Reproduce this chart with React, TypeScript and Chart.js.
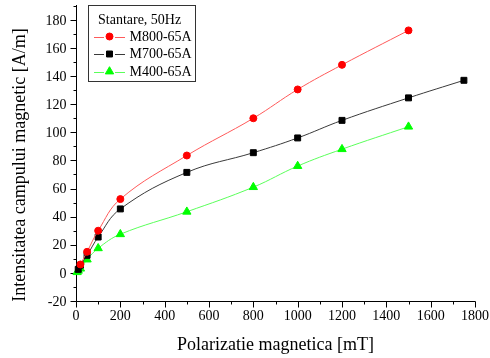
import React, { useEffect, useRef } from "react";
import { Chart, registerables } from "chart.js";

Chart.register(...registerables);

// ---- data ----
const seriesNames = ["M800-65A", "M700-65A", "M400-65A"];
const legendTitle = "Stantare, 50Hz";

const m800X = [20, 50, 100, 200, 500, 800, 1000, 1200, 1500];
const m800Y = [6, 15, 30, 52.5, 83.5, 110, 130.5, 148, 172.5];

const m700X = [10, 20, 50, 100, 200, 500, 800, 1000, 1200, 1500, 1750];
const m700Y = [2.5, 5.5, 12.5, 25.5, 45.5, 71.5, 85.5, 96, 108.5, 124.5, 137];

const m400X = [5, 10, 20, 50, 100, 200, 500, 800, 1000, 1200, 1500];
const m400Y = [0.5, 1.5, 3, 9.5, 17.5, 27.5, 43.5, 61, 76, 88, 104];

const xTickLabels = [0, 200, 400, 600, 800, 1000, 1200, 1400, 1600, 1800];
const yTickLabels = [-20, 0, 20, 40, 60, 80, 100, 120, 140, 160, 180];
const xMinorStep = 100;
const yMinorStep = 10;

const xTitle = "Polarizatie magnetica [mT]";
const yTitle = "Intensitatea campului magnetic [A/m]";

const FONT = '"Liberation Serif", "Times New Roman", serif';

const zip = (xs: number[], ys: number[]) => xs.map((x, i) => ({ x, y: ys[i] }));

function drawMarker(ctx: CanvasRenderingContext2D, style: string, r: number, x: number, y: number) {
  ctx.beginPath();
  if (style === "rect") {
    const s = Math.SQRT1_2 * r;
    ctx.rect(x - s, y - s, 2 * s, 2 * s);
  } else if (style === "triangle") {
    let a = 0;
    ctx.moveTo(x + Math.sin(a) * r, y - Math.cos(a) * r);
    a += (2 * Math.PI) / 3;
    ctx.lineTo(x + Math.sin(a) * r, y - Math.cos(a) * r);
    a += (2 * Math.PI) / 3;
    ctx.lineTo(x + Math.sin(a) * r, y - Math.cos(a) * r);
    ctx.closePath();
  } else {
    ctx.arc(x, y, r, 0, Math.PI * 2);
  }
  ctx.fill();
  ctx.stroke();
}

const axesPlugin = {
  id: "customAxes",
  beforeDatasetsDraw(chart: any) {
    const ctx = chart.ctx as CanvasRenderingContext2D;
    const xs = chart.scales.x;
    const ys = chart.scales.y;
    const { left, right, top, bottom } = chart.chartArea;
    const ax = Math.floor(left) + 0.5;
    const ay = Math.floor(bottom) + 0.5;
    ctx.save();
    ctx.strokeStyle = "#000";
    ctx.lineWidth = 1;
    ctx.beginPath();
    ctx.moveTo(ax, Math.floor(top));
    ctx.lineTo(ax, ay);
    ctx.lineTo(Math.ceil(right) + 0.5, ay);
    ctx.stroke();

    ctx.beginPath();
    for (let v = ys.min; v <= ys.max + 1e-9; v += yMinorStep) {
      const py = Math.round(ys.getPixelForValue(v)) + 0.5;
      const major = yTickLabels.includes(v);
      ctx.moveTo(ax, py);
      ctx.lineTo(ax - (major ? 6 : 3), py);
    }
    for (let v = xs.min; v <= xs.max + 1e-9; v += xMinorStep) {
      const px = Math.round(xs.getPixelForValue(v)) + 0.5;
      const major = xTickLabels.includes(v);
      ctx.moveTo(px, ay);
      ctx.lineTo(px, ay + (major ? 6 : 3));
    }
    ctx.stroke();

    ctx.fillStyle = "#000";
    ctx.font = `14px ${FONT}`;
    ctx.textAlign = "right";
    ctx.textBaseline = "middle";
    yTickLabels.forEach((v) => {
      ctx.fillText(String(v), ax - 10, ys.getPixelForValue(v) + 1);
    });
    ctx.textAlign = "center";
    ctx.textBaseline = "middle";
    xTickLabels.forEach((v) => {
      ctx.fillText(String(v), xs.getPixelForValue(v), ay + 15);
    });

    ctx.font = `18px ${FONT}`;
    ctx.textAlign = "center";
    ctx.textBaseline = "alphabetic";
    ctx.fillText(xTitle, (left + right) / 2, 350);
    ctx.save();
    ctx.translate(20, 165);
    ctx.rotate(-Math.PI / 2);
    ctx.textBaseline = "middle";
    ctx.fillText(yTitle, 0, 0);
    ctx.restore();
    ctx.restore();
  },
  afterDraw(chart: any) {
    const ctx = chart.ctx as CanvasRenderingContext2D;
    ctx.save();
    const bx = 88.5, by = 5.5, bw = 107, bh = 76;
    ctx.strokeStyle = "#333";
    ctx.lineWidth = 1;
    ctx.fillStyle = "#fff";
    ctx.fillRect(bx, by, bw, bh);
    ctx.strokeRect(bx, by, bw, bh);
    ctx.fillStyle = "#000";
    ctx.font = `14px ${FONT}`;
    ctx.textAlign = "left";
    ctx.textBaseline = "middle";
    ctx.fillText(legendTitle, 98, 20);
    const rows = [36.5, 54, 71.5];
    chart.data.datasets.forEach((ds: any, i: number) => {
      const y = rows[i];
      const ly = Math.round(y) + 0.5;
      ctx.strokeStyle = ds.borderColor;
      ctx.lineWidth = 1;
      ctx.beginPath();
      ctx.moveTo(94, ly);
      ctx.lineTo(104, ly);
      ctx.moveTo(115, ly);
      ctx.lineTo(125, ly);
      ctx.stroke();
      ctx.fillStyle = ds.pointBackgroundColor;
      ctx.strokeStyle = ds.pointBorderColor;
      drawMarker(ctx, ds.pointStyle, ds.pointRadius, 109.5, y);
      ctx.fillStyle = "#000";
      ctx.fillText(seriesNames[i], 129.5, y + 0.5);
    });
    ctx.restore();
  },
};

export default function App() {
  const ref = useRef<HTMLCanvasElement>(null);
  useEffect(() => {
    if (!ref.current) return;
    const common = {
      showLine: true,
      borderWidth: 1,
      pointBorderWidth: 1,
      tension: 0.4,
      clip: false as any,
    };
    const chart = new Chart(ref.current, {
      type: "line",
      data: {
        datasets: [
          {
            ...common,
            label: seriesNames[0],
            data: zip(m800X, m800Y),
            borderColor: "#ff5a5a",
            pointBackgroundColor: "#ff0000",
            pointBorderColor: "#ff0000",
            pointStyle: "circle",
            pointRadius: 3.5,
          },
          {
            ...common,
            label: seriesNames[1],
            data: zip(m700X, m700Y),
            borderColor: "#3a3a3a",
            pointBackgroundColor: "#000000",
            pointBorderColor: "#000000",
            pointStyle: "rect",
            pointRadius: 4.2,
          },
          {
            ...common,
            label: seriesNames[2],
            data: zip(m400X, m400Y),
            borderColor: "#5aff5a",
            pointBackgroundColor: "#00ff00",
            pointBorderColor: "#00ff00",
            pointStyle: "triangle",
            pointRadius: 4.8,
          },
        ],
      },
      options: {
        animation: false,
        responsive: false,
        devicePixelRatio: 1,
        layout: { padding: { left: 0, right: 15, top: 2, bottom: 0 } },
        plugins: { legend: { display: false }, title: { display: false }, tooltip: { enabled: false } },
        scales: {
          x: {
            type: "linear",
            min: 0,
            max: 1800,
            ticks: { display: false },
            grid: { display: false },
            border: { display: false },
            afterFit: (s: any) => {
              s.height = 57;
            },
          },
          y: {
            type: "linear",
            min: -20,
            max: 190,
            ticks: { display: false },
            grid: { display: false },
            border: { display: false },
            afterFit: (s: any) => {
              s.width = 76;
            },
          },
        },
      },
      plugins: [axesPlugin],
    });
    return () => chart.destroy();
  }, []);
  return (
    <div style={{ position: "fixed", left: 0, top: 0, width: 490, height: 358, background: "#fff" }}>
      <canvas ref={ref} width={490} height={358} style={{ display: "block" }} />
    </div>
  );
}
